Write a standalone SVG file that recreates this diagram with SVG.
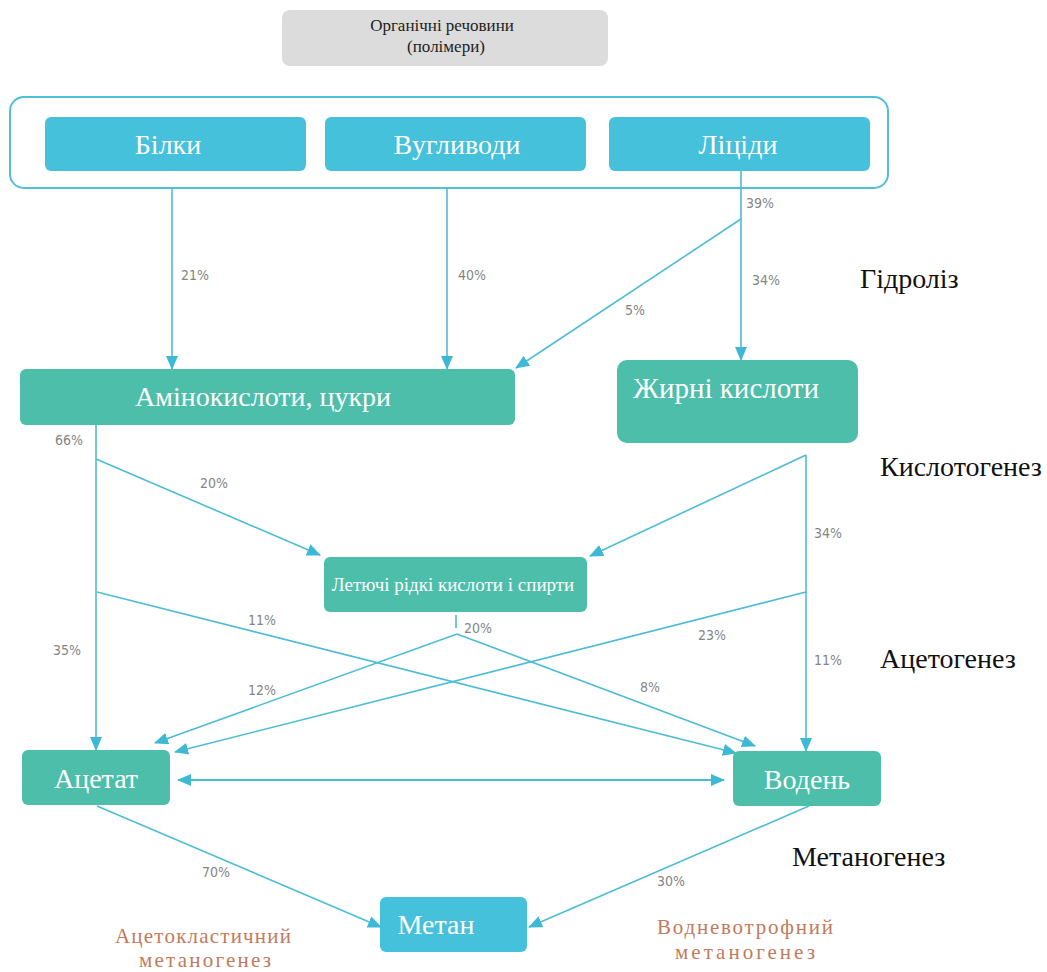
<svg xmlns="http://www.w3.org/2000/svg" width="1047" height="972" viewBox="0 0 1047 972">
<defs>
<marker id="ah" markerUnits="userSpaceOnUse" markerWidth="14" markerHeight="12" refX="13" refY="6" orient="auto-start-reverse">
<path d="M0,0 L14,6 L0,12 Z" fill="#3db9d5"/>
</marker>
<style>
.blue{fill:#45c1db}
.teal{fill:#4dbeaa}
.nt{font-family:'Liberation Serif','Times New Roman',serif;fill:#ffffff;text-anchor:middle}
.pc{font-family:'DejaVu Sans Condensed','DejaVu Sans',sans-serif;font-size:14px;fill:#858585}
.stage{font-family:'Liberation Serif','Times New Roman',serif;font-size:28px;fill:#111111}
.sub{font-family:'Liberation Serif','Times New Roman',serif;font-size:21px;fill:#c27a5c;text-anchor:middle}
.ln{stroke:#4dbcd6;stroke-width:1.6;fill:none}
.arr{marker-end:url(#ah)}
</style>
</defs>
<rect width="1047" height="972" fill="#ffffff"/>

<g id="organic">
<rect x="282" y="10" width="326" height="56" rx="8" fill="#dcdcdc"/>
<text x="442" y="31" font-family="'Liberation Serif','Times New Roman',serif" font-size="17" fill="#222" text-anchor="middle">Органічні речовини</text>
<text x="446" y="52" font-family="'Liberation Serif','Times New Roman',serif" font-size="17" fill="#222" text-anchor="middle">(полімери)</text>
</g>

<g id="frame">
<rect x="10" y="97" width="878" height="91" rx="14" fill="#ffffff" stroke="#4dbfd8" stroke-width="2"/>
</g>

<g id="bilky">
<rect class="blue" x="45" y="117" width="261" height="54" rx="6"/>
<text class="nt" x="168" y="154" font-size="28">Білки</text>
</g>
<g id="vuglyvody">
<rect class="blue" x="325" y="117" width="261" height="54" rx="6"/>
<text class="nt" x="457" y="154" font-size="28">Вугливоди</text>
</g>
<g id="lipidy">
<rect class="blue" x="609" y="117" width="261" height="54" rx="6"/>
<text class="nt" x="738" y="154" font-size="28">Ліціди</text>
</g>

<g id="aminokysloty">
<rect class="teal" x="20" y="369" width="495" height="56" rx="6"/>
<text class="nt" x="263" y="406" font-size="28">Амінокислоти, цукри</text>
</g>
<g id="zhyrni">
<rect class="teal" x="617" y="360" width="241" height="83" rx="10"/>
<text class="nt" x="726" y="398" font-size="29">Жирні кислоти</text>
</g>
<g id="letuchi">
<rect class="teal" x="324" y="557" width="263" height="55" rx="6"/>
<text class="nt" x="453" y="591" font-size="19">Летючі рідкі кислоти і спирти</text>
</g>
<g id="acetat">
<rect class="teal" x="22" y="750" width="148" height="55" rx="6"/>
<text class="nt" x="96" y="788" font-size="28">Ацетат</text>
</g>
<g id="voden">
<rect class="teal" x="733" y="751" width="148" height="55" rx="6"/>
<text class="nt" x="807" y="789" font-size="28">Водень</text>
</g>
<g id="metan">
<rect class="blue" x="380" y="897" width="147" height="55" rx="6"/>
<text class="nt" x="436" y="934" font-size="28">Метан</text>
</g>

<g id="connectors">
<line class="ln arr" x1="172" y1="188" x2="172" y2="369"/>
<line class="ln arr" x1="447" y1="188" x2="447" y2="369"/>
<line class="ln arr" x1="741" y1="171" x2="741" y2="360"/>
<line class="ln arr" x1="741" y1="219" x2="516" y2="368"/>
<line class="ln arr" x1="96" y1="425" x2="96" y2="750"/>
<line class="ln arr" x1="96" y1="459" x2="320" y2="555"/>
<line class="ln arr" x1="806" y1="455" x2="590" y2="556"/>
<line class="ln arr" x1="806" y1="455" x2="806" y2="751"/>
<line class="ln arr" x1="806" y1="592" x2="175" y2="752"/>
<line class="ln arr" x1="97" y1="592" x2="736" y2="753"/>
<line class="ln" x1="456" y1="615" x2="456" y2="628"/>
<line class="ln arr" x1="457" y1="634" x2="155" y2="743"/>
<line class="ln arr" x1="457" y1="634" x2="755" y2="746"/>
<line class="ln arr" x1="178" y1="780" x2="724" y2="780" style="marker-start:url(#ah);stroke-width:2.2"/>
<line class="ln arr" x1="97" y1="806" x2="381" y2="927"/>
<line class="ln arr" x1="809" y1="806" x2="529" y2="927"/>
</g>

<g id="percents">
<text class="pc" x="181" y="280">21%</text>
<text class="pc" x="458" y="280">40%</text>
<text class="pc" x="746" y="208">39%</text>
<text class="pc" x="752" y="285">34%</text>
<text class="pc" x="625" y="315">5%</text>
<text class="pc" x="55" y="445">66%</text>
<text class="pc" x="200" y="488">20%</text>
<text class="pc" x="814" y="538">34%</text>
<text class="pc" x="248" y="625">11%</text>
<text class="pc" x="464" y="633">20%</text>
<text class="pc" x="53" y="655">35%</text>
<text class="pc" x="698" y="640">23%</text>
<text class="pc" x="248" y="695">12%</text>
<text class="pc" x="640" y="692">8%</text>
<text class="pc" x="814" y="665">11%</text>
<text class="pc" x="202" y="877">70%</text>
<text class="pc" x="657" y="886">30%</text>
</g>

<g id="stages">
<text class="stage" x="860" y="288">Гідроліз</text>
<text class="stage" x="880" y="476">Кислотогенез</text>
<text class="stage" x="880" y="668">Ацетогенез</text>
<text class="stage" x="792" y="866">Метаногенез</text>
<text class="sub" x="203" y="943" textLength="176">Ацетокластичний</text>
<text class="sub" x="205" y="967" textLength="132">метаногенез</text>
<text class="sub" x="745" y="934" textLength="176">Водневотрофний</text>
<text class="sub" x="745" y="959" textLength="140">метаногенез</text>
</g>
</svg>
